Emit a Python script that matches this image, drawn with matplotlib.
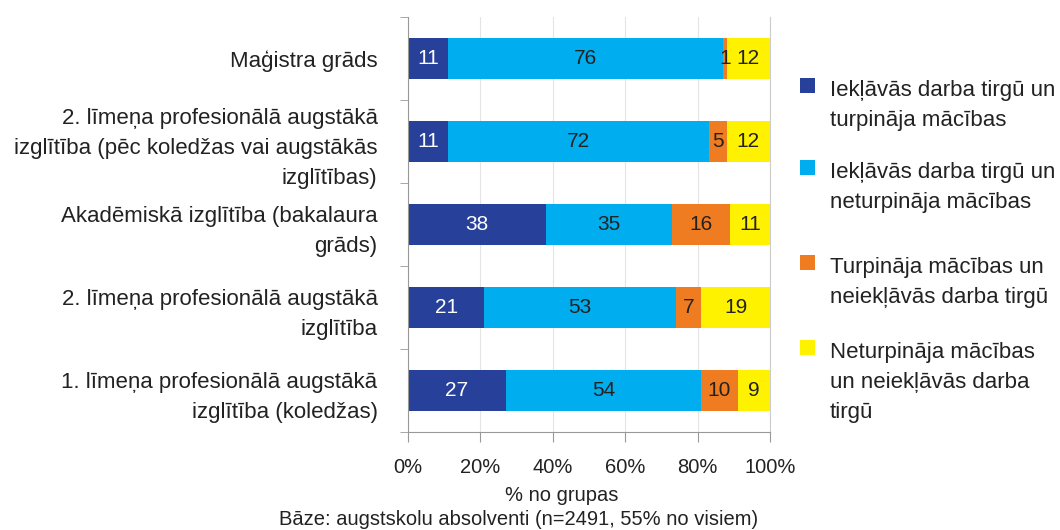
import matplotlib.pyplot as plt
from matplotlib.patches import Rectangle
import numpy as np

plt.rcParams['font.family'] = ['Liberation Sans', 'DejaVu Sans']

# Dati
kategorijas = [
    "Maģistra grāds",
    "2. līmeņa profesionālā augstākā\nizglītība (pēc koledžas vai augstākās\nizglītības)",
    "Akadēmiskā izglītība (bakalaura\ngrāds)",
    "2. līmeņa profesionālā augstākā\nizglītība",
    "1. līmeņa profesionālā augstākā\nizglītība (koledžas)",
]
sērijas = [
    "Iekļāvās darba tirgū un\nturpināja mācības",
    "Iekļāvās darba tirgū un\nneturpināja mācības",
    "Turpināja mācības un\nneiekļāvās darba tirgū",
    "Neturpināja mācības\nun neiekļāvās darba\ntirgū",
]
strada_macas = [11, 11, 38, 21, 27]
strada_nemacas = [76, 72, 35, 53, 54]
macas_nestrada = [1, 5, 16, 7, 10]
ne_ne = [12, 12, 11, 19, 9]

krasas = ["#27409a", "#00adee", "#f07c22", "#fff200"]
teksta_krasas = ["white", "#222222", "#222222", "#222222"]

W, H = 1060, 530
fig = plt.figure(figsize=(W / 100, H / 100), dpi=100)
ax = fig.add_axes([0.385, 0.185, 0.3415, 0.783])

y = np.arange(len(kategorijas))
left = np.zeros(len(kategorijas))
for vert, kr, tk, nos in zip([strada_macas, strada_nemacas, macas_nestrada, ne_ne],
                             krasas, teksta_krasas, sērijas):
    bars = ax.barh(y, vert, left=left, height=0.5, color=kr, label=nos)
    ax.bar_label(bars, labels=[str(v) for v in vert], label_type='center',
                 color=tk, fontsize=15)
    left += np.array(vert)

ax.set_xlim(0, 100)
ax.set_ylim(4.5, -0.5)
ax.set_yticks(y)
ax.set_yticklabels(kategorijas, fontsize=16, color="#222222", linespacing=1.55)
ax.set_yticks(np.arange(-0.5, 5, 1), minor=True)
ax.tick_params(axis='y', which='major', length=0, pad=22)
ax.tick_params(axis='y', which='minor', length=6, color="#999999")

ax.set_xticks(np.arange(0, 101, 20))
ax.set_xticklabels([f"{v}%" for v in range(0, 101, 20)], fontsize=14.5, color="#222222")
ax.tick_params(axis='x', length=7, color="#999999", pad=12)
ax.grid(axis='x', color="#e4e4e4", linewidth=0.8)
ax.set_axisbelow(True)

ax.spines['top'].set_visible(False)
ax.spines['right'].set_color("#cccccc")
ax.spines['left'].set_color("#999999")
ax.spines['bottom'].set_color("#999999")

fig.text(0.53, 0.066, "% no grupas", ha='center', va='center', fontsize=14.5, color="#222222")
fig.text(0.489, 0.02, "Bāze: augstskolu absolventi (n=2491, 55% no visiem)",
         ha='center', va='center', fontsize=14.5, color="#222222")

# Leģenda: kvadrāts pie pirmās rindas, katra rinda atsevišķi
bazes_linijas = [96, 178, 273, 358]  # pirmās rindas bāzes līnija, pikseļi no augšas
for nos, kr, by in zip(sērijas, krasas, bazes_linijas):
    for i, rinda in enumerate(nos.split("\n")):
        fig.text(830 / W, 1 - (by + 30 * i) / H, rinda, ha='left', va='baseline',
                 fontsize=16, color="#222222")
    fig.patches.append(Rectangle((800 / W, 1 - (by - 3) / H), 15 / W, 15 / H,
                                 transform=fig.transFigure, facecolor=kr,
                                 edgecolor='none'))

fig.savefig("out.png", dpi=100)
